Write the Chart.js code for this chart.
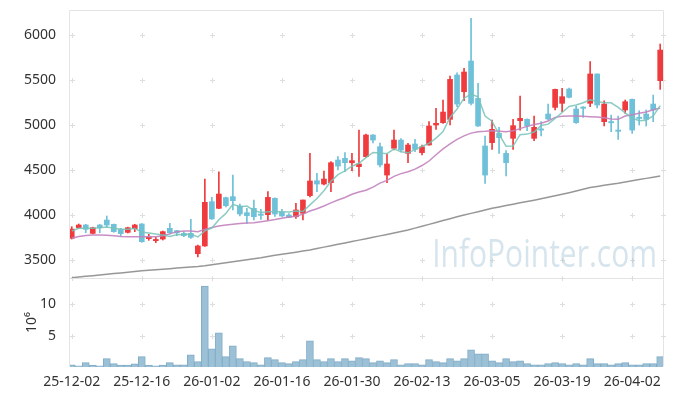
<!DOCTYPE html>
<html><head><meta charset="utf-8">
<script src="https://cdn.jsdelivr.net/npm/chart.js@4.4.1/dist/chart.umd.min.js"></script>
<style>html,body{margin:0;padding:0;background:#fff}#wrap{width:673px;height:396px;position:relative}</style>
</head><body><div id="wrap"><canvas id="c" width="673" height="396"></canvas></div>
<script>
const dates = ['25-12-02','25-12-03','25-12-04','25-12-05','25-12-08','25-12-09','25-12-10','25-12-11','25-12-12','25-12-15',
'25-12-16','25-12-17','25-12-18','25-12-19','25-12-22','25-12-23','25-12-24','25-12-26','25-12-29','25-12-30',
'26-01-02','26-01-05','26-01-06','26-01-07','26-01-08','26-01-09','26-01-12','26-01-13','26-01-14','26-01-15',
'26-01-16','26-01-19','26-01-20','26-01-21','26-01-22','26-01-23','26-01-26','26-01-27','26-01-28','26-01-29',
'26-01-30','26-02-02','26-02-03','26-02-04','26-02-05','26-02-06','26-02-09','26-02-10','26-02-11','26-02-12',
'26-02-13','26-02-19','26-02-20','26-02-23','26-02-24','26-02-25','26-02-26','26-02-27','26-03-03','26-03-04',
'26-03-05','26-03-06','26-03-09','26-03-10','26-03-11','26-03-12','26-03-13','26-03-16','26-03-17','26-03-18',
'26-03-19','26-03-20','26-03-23','26-03-24','26-03-25','26-03-26','26-03-27','26-03-30','26-03-31','26-04-01',
'26-04-02','26-04-03','26-04-06','26-04-07','26-04-08'];
const openP = [3741,3859,3889,3796,3889,3944,3896,3841,3807,3848,3900,3737,3715,3733,3852,3826,3796,3796,3570,3656,
4148,4074,4193,4204,4100,4026,4074,4011,4004,4185,4033,4000,3981,4019,4215,4381,4344,4359,4611,4630,
4581,4537,4648,4889,4759,4444,4741,4833,4685,4789,4693,4778,5000,5026,5063,5556,5370,5711,5296,4767,
4804,4907,4685,4852,5048,5063,4852,4956,5122,5196,5241,5400,5178,5196,5241,5567,5037,5037,4944,5167,
5285,5085,5122,5233,5493];
const highP = [3870,3900,3897,3865,3895,3989,3900,3852,3865,3897,3905,3785,3752,3822,3907,3830,3815,3952,3667,4400,
4196,4481,4200,4444,4122,4074,4167,4063,4259,4190,4063,4015,4130,4167,4685,4463,4489,4593,4648,4693,
4685,4944,4900,4895,4800,4678,4944,4850,4796,4841,4778,5037,5185,5278,5544,5581,5630,6185,5463,4878,
5056,4974,4715,5063,5322,5070,5100,5037,5233,5400,5407,5410,5211,5204,5704,5570,5270,5111,5100,5278,
5290,5159,5167,5333,5900];
const lowP = [3733,3852,3803,3790,3803,3863,3808,3770,3800,3815,3696,3719,3693,3722,3789,3770,3759,3740,3533,3650,
3950,4070,4090,4056,3989,3907,3944,3952,3944,3985,3985,3970,3963,3944,4200,4259,4333,4259,4500,4481,
4493,4430,4640,4800,4533,4359,4722,4700,4581,4704,4667,4775,4952,5019,5000,5204,5270,5222,4985,4352,
4730,4685,4433,4730,4944,4937,4826,4878,5056,5167,5148,5300,5019,5085,5204,5189,4989,4926,4841,5130,
4907,5000,4989,5037,5396];
const closeP = [3844,3889,3841,3859,3859,3889,3815,3793,3859,3889,3704,3759,3728,3815,3804,3800,3770,3752,3656,4141,
3956,4233,4104,4159,4011,3993,3981,3996,4196,4011,3989,3974,4056,4167,4378,4344,4400,4581,4544,4581,
4604,4567,4889,4833,4556,4567,4833,4722,4778,4730,4759,4989,5019,5144,5507,5233,5589,5241,4989,4444,
4952,4859,4581,4993,5074,4989,4974,4944,5067,5396,5315,5307,5026,5189,5567,5222,5233,5026,4930,5259,
4944,5074,5063,5167,5833];
const volume = [0.35,0.2,0.69,0.32,0.2,1.32,0.53,0.32,0.32,0.5,1.64,0.32,0.2,0.3,0.69,0.35,0.35,1.95,0.85,12.86,
2.9,5.43,1.64,3.38,1.33,0.85,0.69,0.35,1.48,1.16,0.69,0.53,0.85,1.16,4.17,1.16,0.85,1.33,0.85,1.33,
1.0,1.48,1.33,0.69,1.0,0.69,1.16,0.35,0.53,0.53,0.35,1.16,0.85,0.69,1.33,1.0,1.33,2.74,2.1,2.1,
1.0,0.69,1.33,0.85,1.0,0.53,0.35,0.35,0.53,0.69,0.53,0.35,0.53,0.35,1.33,0.53,0.53,0.35,0.53,0.69,
0.35,0.35,0.53,0.53,1.64];
const ma5 = [3822,3852,3852,3852,3858,3867,3853,3843,3843,3849,3812,3801,3788,3779,3762,3781,3783,3788,3756,3824,
3855,3948,4018,4119,4093,4100,4050,4028,4035,4035,4035,4033,4045,4039,4113,4184,4269,4374,4449,4490,
4542,4575,4637,4695,4690,4682,4736,4702,4691,4726,4764,4796,4855,4928,5084,5178,5298,5343,5312,5099,
5043,4897,4765,4766,4892,4899,4922,4995,5010,5074,5139,5206,5222,5247,5281,5262,5247,5247,5196,5134,
5078,5047,5054,5101,5216];
const ma20 = [3741,3760,3772,3778,3778,3775,3770,3762,3759,3758,3757,3757,3759,3770,3790,3815,3822,3822,3815,3840,
3862,3878,3888,3897,3905,3910,3914,3925,3937,3950,3965,3978,3985,4010,4045,4070,4100,4135,4167,4195,
4230,4255,4275,4310,4355,4385,4430,4460,4480,4510,4550,4600,4670,4735,4790,4840,4880,4910,4925,4930,
4937,4932,4926,4935,4960,4985,5005,5019,5045,5085,5098,5100,5100,5096,5093,5090,5080,5068,5063,5100,
5115,5130,5145,5170,5190];
const ma60 = [3304,3311,3319,3326,3334,3341,3349,3356,3364,3372,3380,3386,3392,3398,3404,3410,3416,3422,3428,3437,
3448,3459,3470,3481,3492,3503,3514,3526,3540,3552,3563,3575,3587,3599,3611,3627,3643,3659,3675,3690,
3706,3721,3737,3752,3768,3784,3800,3816,3833,3854,3875,3896,3917,3938,3959,3980,3999,4018,4037,4056,
4074,4090,4105,4120,4135,4150,4165,4181,4197,4213,4230,4248,4267,4286,4305,4318,4330,4342,4354,4368,
4381,4394,4407,4420,4433];
const tickIdx = [0,10,20,30,40,50,60,70,80];
const priceTicks = [3500,4000,4500,5000,5500,6000];
const volTicks = [5,10];

const RED = '#ef3b3d', BLUE = '#6ec1d8';
const idx = dates.map((d,i)=>i);
const up = idx.map(i => closeP[i] >= openP[i]);
const bodyData = idx.map(i => {
  let a = openP[i], b = closeP[i];
  if (Math.abs(b-a) < 14) { const m=(a+b)/2; a=m-7; b=m+7; }
  return {x:i, y:[a,b]};
});
const wickData = idx.map(i => ({x:i, y:[lowP[i], highP[i]]}));
const colors = idx.map(i => up[i] ? RED : BLUE);
const line = arr => idx.map(i => ({x:i, y:arr[i]}));
const FONT = {family:"'Noto Sans', sans-serif", size:14};
const noPad = s => { s.paddingTop = 0; s.paddingBottom = 0; s.paddingLeft = 0; s.paddingRight = 0; };

const framePlugin = {
  id:'frame',
  beforeDatasetsDraw(chart){
    const {ctx, chartArea:a, scales} = chart;
    const xs = scales.x, yp = scales.y, yv = scales.yv;
    ctx.save();
    ctx.strokeStyle = '#e4e4e4'; ctx.lineWidth = 1;
    const L = Math.round(a.left)-0.5, R = Math.round(a.right)+0.5, T = Math.round(a.top)+0.5, B = Math.round(a.bottom)-0.5;
    const S = Math.round(yp.bottom)+0.5;
    ctx.beginPath();
    ctx.moveTo(L,T); ctx.lineTo(R,T); ctx.moveTo(L,T); ctx.lineTo(L,B);
    ctx.moveTo(R,T); ctx.lineTo(R,B); ctx.moveTo(L,S); ctx.lineTo(R,S);
    ctx.stroke();
    ctx.strokeStyle = '#dedede';
    const cross = (x,y) => { x=Math.round(x)+0.5; y=Math.round(y)+0.5; ctx.moveTo(x-2.5,y); ctx.lineTo(x+2.5,y); ctx.moveTo(x,y-2.5); ctx.lineTo(x,y+2.5); };
    ctx.beginPath();
    for (const t of tickIdx) {
      const px = xs.getPixelForValue(t);
      for (const v of priceTicks) cross(px, yp.getPixelForValue(v));
      for (const v of volTicks) cross(px, yv.getPixelForValue(v));
      cross(px, S-0.5);
    }
    for (const v of priceTicks) cross(R-0.5, yp.getPixelForValue(v));
    for (const v of volTicks) cross(R-0.5, yv.getPixelForValue(v));
    ctx.stroke();
    // watermark
    ctx.fillStyle = 'rgba(165,198,216,0.45)';
    ctx.font = "30px 'Open Sans', sans-serif";
    ctx.textAlign = 'right'; ctx.textBaseline = 'alphabetic';
    ctx.translate(657, 267);
    ctx.scale(1, 1.3);
    ctx.fillText('InfoPointer.com', 0, 0);
    ctx.restore();
  }
};

new Chart(document.getElementById('c'), {
  data: {
    datasets: [
      {type:'line', label:'MA5', data: line(ma5), borderColor:'rgba(120,195,185,0.85)', borderWidth:1.5, pointRadius:0, yAxisID:'y', order:0},
      {type:'line', label:'MA20', data: line(ma20), borderColor:'rgba(195,130,190,0.9)', borderWidth:1.5, pointRadius:0, yAxisID:'y', order:0},
      {type:'line', label:'MA60', data: line(ma60), borderColor:'rgba(140,140,140,0.9)', borderWidth:1.5, pointRadius:0, yAxisID:'y', order:0},
      {type:'bar', label:'body', data: bodyData, backgroundColor: colors, barThickness:5, grouped:false, yAxisID:'y', order:1},
      {type:'bar', label:'wick', data: wickData, backgroundColor: colors, barThickness:1, grouped:false, yAxisID:'y', order:2},
      {type:'bar', label:'volume', data: idx.map(i=>({x:i, y:volume[i]})), backgroundColor:'#9cc0d5', borderColor:'#80adc8', borderWidth:1, barThickness:7, grouped:false, yAxisID:'yv', order:3}
    ]
  },
  options: {
    responsive:false, animation:false, devicePixelRatio:1,
    layout:{padding:{top:10, right:10, left:0, bottom:0}},
    plugins:{legend:{display:false}, tooltip:{enabled:false}},
    scales:{
      yv:{type:'linear', position:'left', stack:'v', stackWeight:89, min:0, max:14.15,
         grid:{display:false}, border:{display:false},
         afterBuildTicks: s => { s.ticks = volTicks.map(v=>({value:v})); },
         afterFit: s => { s.width = 70; noPad(s); },
         title:{display:true, text:'10⁶', font:FONT, color:'#333', padding:{top:24, bottom:0}},
         ticks:{font:FONT, color:'#333', padding:6, callback: v => String(v)}},
      y:{type:'linear', position:'left', stack:'v', stackWeight:268, min:3300, max:6278,
         grid:{display:false}, border:{display:false},
         afterBuildTicks: s => { s.ticks = priceTicks.map(v=>({value:v})); },
         afterFit: s => { s.width = 70; noPad(s); },
         ticks:{font:FONT, color:'#333', padding:6, callback: v => String(v)}},
      x:{type:'linear', position:'bottom', min:-0.25, max:84.4, offset:false,
         grid:{display:false, offset:false}, border:{display:false},
         afterBuildTicks: s => { s.ticks = tickIdx.map(v=>({value:v})); },
         afterFit: s => { s.height = 29; noPad(s); },
         ticks:{font:FONT, color:'#333', padding:-1, maxRotation:0, autoSkip:false, callback: v => dates[v] || ''}}
    }
  },
  plugins:[framePlugin]
});
</script></body></html>
